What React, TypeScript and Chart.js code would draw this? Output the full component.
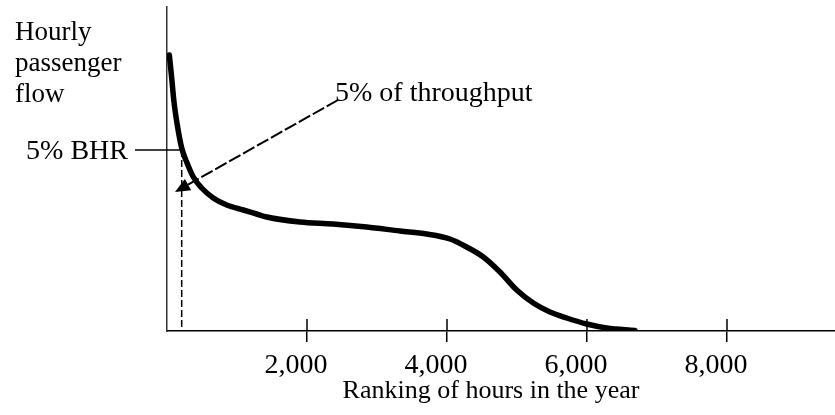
import React, { useEffect, useRef } from "react";
import { Chart, registerables } from "chart.js";

Chart.register(...registerables);

// ---- data ----
const rankHours = [33, 67, 100, 147, 210, 281, 376, 496, 661, 853, 1090, 1281, 1424, 1900, 2371, 2853, 3329, 3710, 4043, 4281, 4519, 4757, 4996, 5233, 5471, 5710, 5996, 6281, 6686];
const hourlyFlow = [276, 253, 229, 206, 183, 169, 154, 143, 133, 126, 121, 117, 114, 109, 107, 104, 100, 97, 92, 84, 74, 59, 41, 28, 19, 13, 7, 3, 0.5];
const xTickValues = [2000, 4000, 6000, 8000];
const X_MAX = 9543;
const Y_MAX = 324;
const bhrPoint = { hours: 210, flow: 181 };
const arrowFrom = { hours: 2443, flow: 231 };
const arrowTo = { hours: 114, flow: 139 };
const yTitleLines = ["Hourly", "passenger", "flow"];
const xTitle = "Ranking of hours in the year";
const bhrLabel = "5% BHR";
const arrowLabel = "5% of throughput";

const FONT = "'Liberation Serif', 'Times New Roman', serif";

const annotations = {
  id: "annotations",
  afterDraw(chart: any) {
    const { ctx, chartArea, scales } = chart;
    const xs = scales.x;
    const ys = scales.y;
    ctx.save();
    ctx.fillStyle = "#000";
    ctx.strokeStyle = "#000";

    // upper halves of x tick marks
    ctx.lineWidth = 1.5;
    xs.ticks.forEach((t: any) => {
      const px = xs.getPixelForValue(t.value);
      ctx.beginPath();
      ctx.moveTo(px, chartArea.bottom - 12);
      ctx.lineTo(px, chartArea.bottom);
      ctx.stroke();
    });

    ctx.textBaseline = "alphabetic";

    // x axis title
    ctx.font = `26px ${FONT}`;
    ctx.textAlign = "center";
    ctx.fillText(xTitle, (chartArea.left + chartArea.right) / 2 - 10, chartArea.bottom + 67);

    // y title lines (top-left)
    ctx.font = `27px ${FONT}`;
    ctx.textAlign = "left";
    yTitleLines.forEach((l, i) => ctx.fillText(l, 15, 40 + i * 31));

    // 5% BHR line + dashed drop
    const bx = xs.getPixelForValue(bhrPoint.hours);
    const by = ys.getPixelForValue(bhrPoint.flow);
    ctx.lineWidth = 1.5;
    ctx.beginPath();
    ctx.moveTo(chartArea.left - 32, by);
    ctx.lineTo(bx, by);
    ctx.stroke();
    ctx.setLineDash([7, 3]);
    ctx.beginPath();
    ctx.moveTo(bx, by);
    ctx.lineTo(bx, chartArea.bottom);
    ctx.stroke();
    ctx.setLineDash([]);
    ctx.font = `28px ${FONT}`;
    ctx.textAlign = "right";
    ctx.fillText(bhrLabel, chartArea.left - 39, by + 9);

    // arrow "5% of throughput"
    const ax0 = xs.getPixelForValue(arrowFrom.hours);
    const ay0 = ys.getPixelForValue(arrowFrom.flow);
    const ax1 = xs.getPixelForValue(arrowTo.hours);
    const ay1 = ys.getPixelForValue(arrowTo.flow);
    const ang = Math.atan2(ay1 - ay0, ax1 - ax0);
    const headLen = 15;
    const hw = 6.5;
    const hx = ax1 - headLen * Math.cos(ang);
    const hy = ay1 - headLen * Math.sin(ang);
    ctx.lineWidth = 2;
    ctx.setLineDash([13, 3]);
    ctx.beginPath();
    ctx.moveTo(ax0, ay0);
    ctx.lineTo(hx, hy);
    ctx.stroke();
    ctx.setLineDash([]);
    ctx.beginPath();
    ctx.moveTo(ax1, ay1);
    ctx.lineTo(hx + hw * Math.sin(ang), hy - hw * Math.cos(ang));
    ctx.lineTo(hx - hw * Math.sin(ang), hy + hw * Math.cos(ang));
    ctx.closePath();
    ctx.fill();
    ctx.textAlign = "left";
    ctx.fillText(arrowLabel, ax0 - 3, ay0 + 1);

    ctx.restore();
  },
};

export default function App() {
  const ref = useRef<HTMLCanvasElement | null>(null);
  useEffect(() => {
    document.body.style.margin = "0";
    const canvas = ref.current;
    if (!canvas) return;
    const chart = new Chart(canvas, {
      type: "line",
      data: {
        datasets: [
          {
            data: rankHours.map((h, i) => ({ x: h, y: hourlyFlow[i] })),
            borderColor: "#000",
            borderWidth: 5.5,
            pointRadius: 0,
            pointHoverRadius: 0,
            cubicInterpolationMode: "monotone",
            borderCapStyle: "round",
            borderJoinStyle: "round",
            fill: false,
          },
        ],
      },
      options: {
        animation: false,
        responsive: false,
        devicePixelRatio: 1,
        layout: { autoPadding: false, padding: { left: 167, top: 7, right: 0, bottom: 0 } },
        plugins: { legend: { display: false }, tooltip: { enabled: false } },
        scales: {
          x: {
            type: "linear",
            min: 0,
            max: X_MAX,
            afterBuildTicks: (s: any) => {
              s.ticks = xTickValues.map((v) => ({ value: v }));
            },
            afterFit: (s: any) => {
              s.height = 84;
            },
            border: { display: true, color: "#000", width: 1.5 },
            grid: {
              drawOnChartArea: false,
              drawTicks: true,
              tickLength: 11,
              lineWidth: 1.5,
              color: "#000",
            },
            ticks: {
              autoSkip: false,
              maxRotation: 0,
              padding: 7,
              labelOffset: -11,
              color: "#000",
              font: { family: FONT, size: 28 },
              callback: (v: any) => Number(v).toLocaleString("en-US"),
            },
            title: { display: false },
          },
          y: {
            type: "linear",
            min: 0,
            max: Y_MAX,
            afterFit: (s: any) => {
              s.width = 0;
            },
            border: { display: true, color: "#333", width: 1.5 },
            grid: { display: false, drawTicks: false },
            ticks: { display: false },
          },
        },
      },
      plugins: [annotations],
    } as any);
    return () => chart.destroy();
  }, []);
  return (
    <div style={{ width: 835, height: 415 }}>
      <canvas ref={ref} width={835} height={415} />
    </div>
  );
}
